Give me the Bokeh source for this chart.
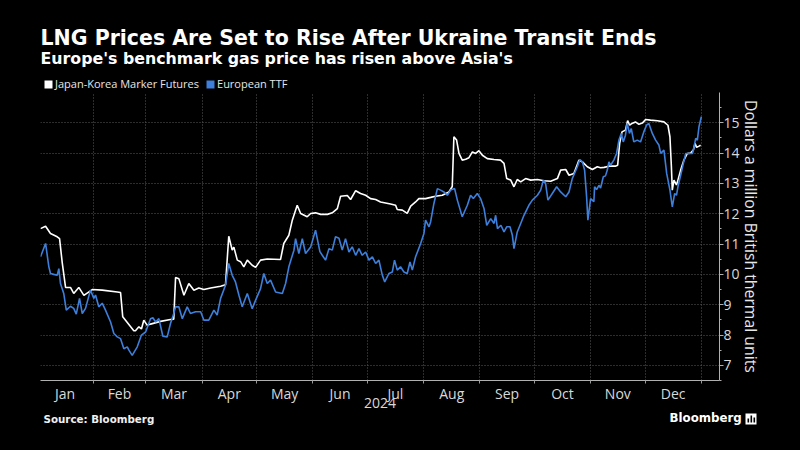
import pandas as pd
from datetime import datetime
from bokeh.plotting import figure
from bokeh.layouts import column, row
from bokeh.models import (Range1d, FixedTicker, Label, Legend, LegendItem,
                          ColumnDataSource, BoxAnnotation)
from bokeh.embed import file_html
from bokeh.resources import INLINE

# ---- data (day number counted from 1 Jan 2024, value in $/MMBtu) ----
jkm_days = [2.0, 4.8, 7.5, 11.2, 12.5, 14.0, 15.8, 18.5, 20.3, 23.1,
            25.9, 30.5, 36.0, 44.3, 46.1, 47.3, 53.4, 54.3, 56.2, 57.6,
            58.9, 60.8, 62.6, 68.1, 73.6, 75.4, 76.4, 78.2, 81.0, 83.7,
            86.5, 89.2, 92.0, 95.7, 101.2, 103.9, 105.7, 107.6, 108.5, 110.4,
            112.2, 114.0, 115.9, 118.6, 120.5, 123.2, 126.9, 134.2, 136.0, 138.8,
            140.7, 143.4, 145.3, 148.9, 150.8, 153.5, 156.3, 160.0, 162.7, 165.5,
            167.3, 171.0, 172.8, 175.6, 178.3, 181.1, 183.8, 186.6, 189.3, 194.8,
            197.6, 198.5, 201.3, 204.0, 205.9, 208.6, 210.4, 214.1, 216.9, 219.6,
            223.3, 227.0, 228.8, 229.7, 231.2, 232.5, 234.3, 236.2, 238.0, 239.9,
            241.7, 243.5, 245.4, 248.1, 251.8, 255.4, 257.3, 258.8, 261.0, 262.8,
            264.6, 266.5, 269.2, 272.0, 275.7, 279.3, 283.0, 286.7, 288.5, 291.3,
            293.1, 295.8, 298.6, 300.5, 303.2, 306.0, 308.7, 310.5, 312.4, 315.1,
            318.6, 319.9, 321.0, 322.3, 324.2, 325.4, 326.5, 327.8, 329.7, 331.6,
            333.5, 335.3, 338.0, 341.8, 345.4, 347.6, 348.7, 349.5, 350.0, 350.9,
            352.3, 353.1, 354.6, 356.4, 358.3, 360.1, 361.6, 362.5, 363.4, 364.7,
            365.6]
jkm_values = [11.51, 11.59, 11.35, 11.24, 11.18, 10.37, 9.57, 9.57, 9.37, 9.57,
              9.31, 9.50, 9.48, 9.42, 9.40, 8.60, 8.14, 8.14, 8.27, 8.20,
              8.49, 8.32, 8.36, 8.45, 8.51, 8.52, 9.90, 9.86, 9.31, 9.70,
              9.48, 9.55, 9.50, 9.55, 9.61, 9.66, 11.26, 10.80, 10.90, 10.47,
              10.42, 10.25, 10.47, 10.30, 10.23, 10.47, 10.51, 10.49, 11.02, 11.29,
              11.79, 12.28, 12.01, 11.90, 12.01, 12.03, 11.98, 11.98, 12.03, 12.17,
              12.58, 12.60, 12.47, 12.76, 12.67, 12.61, 12.50, 12.47, 12.39, 12.32,
              12.28, 12.14, 12.12, 12.01, 12.25, 12.39, 12.50, 12.50, 12.54, 12.58,
              12.61, 12.72, 12.90, 14.54, 14.43, 13.99, 13.77, 13.80, 13.85, 14.04,
              13.99, 14.08, 13.93, 13.82, 13.79, 13.77, 13.66, 13.16, 13.11, 12.89,
              13.13, 13.05, 13.16, 13.11, 13.13, 13.09, 13.07, 13.16, 13.44, 13.46,
              13.27, 13.33, 13.77, 13.71, 13.55, 13.46, 13.55, 13.52, 13.53, 13.57,
              13.57, 13.60, 14.32, 14.70, 14.76, 15.07, 14.92, 14.98, 15.03, 14.95,
              14.99, 15.11, 15.09, 15.07, 15.03, 14.92, 14.54, 13.55, 12.78, 13.11,
              12.95, 13.11, 13.44, 13.77, 13.99, 14.00, 14.10, 14.32, 14.19, 14.23,
              14.26]

ttf_days = [2.0, 4.8, 6.6, 7.5, 9.3, 11.2, 12.1, 13.0, 14.8, 16.2,
            18.5, 20.3, 21.7, 23.5, 25.0, 26.8, 29.5, 31.4, 32.3, 34.1,
            36.0, 37.8, 40.6, 42.4, 44.3, 46.1, 47.9, 49.8, 50.7, 52.5,
            55.3, 57.6, 59.9, 62.6, 63.9, 65.4, 67.2, 69.4, 71.8, 73.6,
            75.4, 76.4, 78.2, 80.1, 82.8, 84.6, 87.4, 90.2, 92.0, 94.7,
            97.5, 99.3, 101.2, 103.9, 105.7, 107.6, 109.4, 111.3, 113.1, 115.9,
            118.6, 120.5, 123.2, 125.0, 126.9, 128.7, 131.5, 135.2, 137.0, 138.8,
            141.6, 142.5, 144.3, 146.2, 148.0, 150.8, 153.5, 155.9, 157.2, 159.0,
            160.9, 162.7, 164.5, 166.4, 168.2, 170.0, 171.9, 173.7, 175.6, 177.4,
            179.2, 181.1, 182.9, 184.8, 186.6, 188.4, 190.3, 191.6, 193.9, 195.8,
            197.0, 198.5, 200.3, 202.2, 204.0, 205.5, 206.8, 208.6, 211.4, 213.2,
            214.1, 216.0, 216.9, 218.7, 220.6, 222.4, 224.2, 226.1, 227.9, 230.1,
            231.6, 234.3, 237.1, 238.9, 240.4, 242.6, 244.4, 246.3, 247.8, 250.0,
            251.8, 252.7, 253.7, 255.6, 257.3, 258.8, 260.6, 261.9, 262.8, 264.6,
            266.5, 268.3, 271.0, 272.9, 275.7, 277.5, 279.0, 280.2, 281.5, 283.9,
            286.3, 288.5, 291.3, 293.1, 294.9, 297.7, 299.1, 300.5, 301.7, 302.8,
            303.5, 305.0, 306.8, 307.2, 308.3, 309.6, 310.5, 312.0, 313.2, 314.2,
            315.1, 316.0, 317.8, 319.3, 320.6, 321.9, 323.0, 324.2, 325.2, 326.4,
            327.4, 328.8, 330.7, 332.5, 334.3, 335.8, 337.1, 339.0, 340.8, 342.6,
            343.6, 345.4, 346.9, 348.7, 350.0, 351.3, 352.3, 353.1, 354.6, 356.1,
            357.4, 359.2, 361.1, 362.0, 362.9, 363.8, 364.7, 366.0]
ttf_values = [10.58, 11.02, 10.25, 10.03, 10.00, 9.97, 10.19, 9.70, 9.37, 8.82,
              8.95, 8.88, 8.69, 9.21, 8.71, 8.88, 9.48, 9.21, 9.32, 8.93,
              9.05, 8.82, 8.43, 8.05, 7.94, 7.88, 7.55, 7.61, 7.50, 7.33,
              7.61, 8.00, 8.10, 8.54, 8.57, 8.43, 8.54, 7.96, 7.94, 8.38,
              8.71, 8.93, 8.93, 8.54, 8.93, 8.71, 8.77, 8.77, 8.49, 8.49,
              8.82, 8.66, 9.21, 9.64, 10.36, 9.97, 9.75, 9.31, 8.93, 9.37,
              8.87, 9.15, 9.53, 10.03, 9.70, 9.81, 9.42, 9.37, 9.70, 10.25,
              10.80, 11.18, 10.69, 11.18, 10.69, 10.90, 11.46, 10.75, 10.63, 10.47,
              10.85, 10.80, 11.24, 11.19, 10.80, 11.18, 10.74, 10.91, 10.63, 10.85,
              10.63, 10.74, 10.47, 10.58, 10.36, 10.47, 9.97, 9.75, 10.03, 10.08,
              10.47, 10.14, 10.25, 10.08, 10.03, 10.41, 10.14, 10.58, 11.02, 11.35,
              11.79, 11.57, 11.74, 12.34, 12.83, 12.78, 12.72, 12.61, 12.78, 12.83,
              12.45, 11.90, 12.28, 12.61, 12.50, 12.67, 12.50, 12.17, 11.62, 11.84,
              11.68, 11.95, 11.51, 11.62, 11.40, 11.57, 11.57, 11.29, 10.85, 11.40,
              11.68, 11.95, 12.28, 12.45, 12.61, 12.78, 13.11, 13.00, 12.45, 12.67,
              12.89, 12.72, 12.56, 12.72, 13.16, 13.55, 13.79, 13.71, 13.44, 12.56,
              11.79, 12.50, 12.40, 12.89, 12.80, 12.94, 12.85, 13.22, 13.25, 13.44,
              13.71, 13.60, 13.77, 13.99, 14.43, 14.65, 14.37, 14.59, 14.98, 14.65,
              14.81, 14.37, 14.43, 14.37, 14.70, 14.92, 14.98, 14.65, 14.43, 14.27,
              13.99, 14.10, 13.33, 12.78, 12.23, 12.67, 12.61, 12.89, 13.27, 13.66,
              13.99, 13.99, 13.99, 14.21, 14.49, 14.43, 14.87, 15.20]

month_labels = ["Jan", "Feb", "Mar", "Apr", "May", "Jun",
                "Jul", "Aug", "Sep", "Oct", "Nov", "Dec"]
year_label = "2024"
y_ticks = [7, 8, 9, 10, 11, 12, 13, 14, 15]
y_minor_ticks = [6.5, 7.5, 8.5, 9.5, 10.5, 11.5, 12.5, 13.5, 14.5, 15.5]

series_names = ["Japan-Korea Marker Futures", "European TTF"]
title_text = "LNG Prices Are Set to Rise After Ukraine Transit Ends"
subtitle_text = "Europe's benchmark gas price has risen above Asia's"
source_text = "Source: Bloomberg"
brand_text = "Bloomberg"

WHITE = "#ffffff"
BLUE = "#3d7fdb"
TEXT = "#d9d9d9"
FONT = "Open Sans"
HFONT = "DejaVu Sans"
W = 800
BLACK_BG = {"background-color": "#000000"}


def blank(height):
    f = figure(width=W, height=height, x_range=Range1d(0, W), y_range=Range1d(0, height),
               x_axis_location=None, y_axis_location=None,
               output_backend="svg", toolbar_location=None,
               background_fill_color="#000000", border_fill_color="#000000",
               outline_line_color=None, min_border=0)
    f.grid.visible = False
    return f


def add_text(f, text, x, y, size, bold=True, color="#ffffff", align="left", font=FONT):
    # y is the vertical middle of the text line
    f.add_layout(Label(text=text, x=x, y=y, x_units="screen", y_units="screen",
                       text_color=color, text_font=font, text_font_size=size,
                       text_font_style="bold" if bold else "normal",
                       text_baseline="middle", text_align=align))


base = pd.Timestamp("2024-01-01")
jkm_src = ColumnDataSource(dict(date=base + pd.to_timedelta(jkm_days, unit="D"), value=jkm_values))
ttf_src = ColumnDataSource(dict(date=base + pd.to_timedelta(ttf_days, unit="D"), value=ttf_values))

# ---------------- header (own frame = whole strip, page coordinates) ----------------
HEAD = 92
head = blank(HEAD)


def hy(page_y):
    return HEAD - page_y


add_text(head, title_text, 40, hy(37.6), "20.5px", font=HFONT)
add_text(head, subtitle_text, 40, hy(57.6), "15.8px", font=HFONT)
# legend key: zero-height area renderers on the two series (they draw nothing here)
sw_jkm = head.varea(x="date", y1="value", y2="value", source=jkm_src, fill_color=WHITE)
sw_ttf = head.varea(x="date", y1="value", y2="value", source=ttf_src, fill_color=BLUE)
legend = Legend(items=[LegendItem(label=series_names[0], renderers=[sw_jkm]),
                       LegendItem(label=series_names[1], renderers=[sw_ttf])],
                location=(43, 1), orientation="horizontal",
                background_fill_alpha=0, border_line_color=None,
                label_text_color="#e6e6e6", label_text_font=FONT, label_text_font_size="11px",
                glyph_width=10, glyph_height=10, label_height=12, label_standoff=2,
                spacing=6, padding=1, margin=0)
head.add_layout(legend, "center")

# ---------------- main chart ----------------
FRAME_H = 288
BOTTOM = 30
MAIN_H = FRAME_H + BOTTOM

p = figure(width=W, height=MAIN_H, x_axis_type="datetime", y_axis_location="right",
           x_range=Range1d(start=datetime(2024, 1, 3), end=datetime(2025, 1, 11)),
           y_range=Range1d(start=6.5, end=16.0),
           output_backend="svg", toolbar_location=None,
           background_fill_color="#000000", border_fill_color="#000000",
           outline_line_color=None,
           min_border_left=40, min_border_right=81, min_border_top=0,
           min_border_bottom=BOTTOM)

p.line(x="date", y="value", source=jkm_src, line_color=WHITE, line_width=1.6)
p.line(x="date", y="value", source=ttf_src, line_color=BLUE, line_width=1.6)

month_starts = pd.date_range("2024-01-01", "2025-01-01", freq="MS")
ms = [int(t.value // 10**6) for t in month_starts]
mids = [(a + b) // 2 for a, b in zip(ms[:-1], ms[1:])]
xa = p.xaxis[0]
xa.ticker = FixedTicker(ticks=mids, minor_ticks=ms)
xa.major_label_overrides = {m: lab for m, lab in zip(mids, month_labels)}
xa.major_tick_line_color = None
xa.major_tick_in = 0
xa.major_tick_out = 0
xa.minor_tick_line_color = "#9a9a9a"
xa.minor_tick_in = 0
xa.minor_tick_out = 3
xa.axis_line_color = "#b0b0b0"
xa.major_label_text_color = TEXT
xa.major_label_text_font = FONT
xa.major_label_text_font_size = "14px"
xa.major_label_standoff = 0
xa.axis_label = year_label
xa.axis_label_text_color = TEXT
xa.axis_label_text_font = FONT
xa.axis_label_text_font_size = "14px"
xa.axis_label_text_font_style = "normal"
xa.axis_label_standoff = -8

ya = p.yaxis[0]
ya.ticker = FixedTicker(ticks=y_ticks, minor_ticks=y_minor_ticks)
ya.axis_line_color = "#b0b0b0"
ya.major_tick_line_color = "#b0b0b0"
ya.minor_tick_line_color = "#b0b0b0"
ya.major_tick_in = 0
ya.major_tick_out = 4
ya.minor_tick_in = 0
ya.minor_tick_out = 2
ya.major_label_text_color = TEXT
ya.major_label_text_font = FONT
ya.major_label_text_font_size = "14px"
ya.major_label_standoff = 0
ya.axis_label = "Dollars a million British thermal units"
ya.axis_label_text_color = "#e6e6e6"
ya.axis_label_text_font = FONT
ya.axis_label_text_font_size = "15.8px"
ya.axis_label_text_font_style = "normal"
ya.axis_label_standoff = -3

p.xgrid.ticker = FixedTicker(ticks=ms)
for g in (p.xgrid[0], p.ygrid[0]):
    g.grid_line_color = "#5a5a5a"
    g.grid_line_dash = "1 2"
    g.grid_line_width = 1

# ---------------- footer (page coordinates) ----------------
FOOT = 450 - HEAD - MAIN_H
top_y = HEAD + MAIN_H  # page y of footer top
foot = blank(FOOT)


def fy(page_y):
    return FOOT - (page_y - top_y)


add_text(foot, source_text, 43, fy(418.0), "10.3px", color="#f0f0f0", font=HFONT)
add_text(foot, brand_text, 669, fy(417.7), "11.8px", font=HFONT)
foot.add_layout(BoxAnnotation(left=745, right=756, bottom=fy(424), top=fy(413),
                              left_units="screen", right_units="screen",
                              bottom_units="screen", top_units="screen",
                              fill_color="#ffffff", fill_alpha=1, line_color=None))
for bx, bh in [(747, 4), (750, 7), (753, 5)]:
    foot.add_layout(BoxAnnotation(left=bx, right=bx + 1.6, bottom=fy(422), top=fy(422) + bh,
                                  left_units="screen", right_units="screen",
                                  bottom_units="screen", top_units="screen",
                                  fill_color="#000000", fill_alpha=1, line_color=None))

layout = column(row(head, styles=BLACK_BG), p, row(foot, styles=BLACK_BG),
                spacing=0, styles=BLACK_BG)
open("out.html", "w").write(file_html(layout, INLINE))
